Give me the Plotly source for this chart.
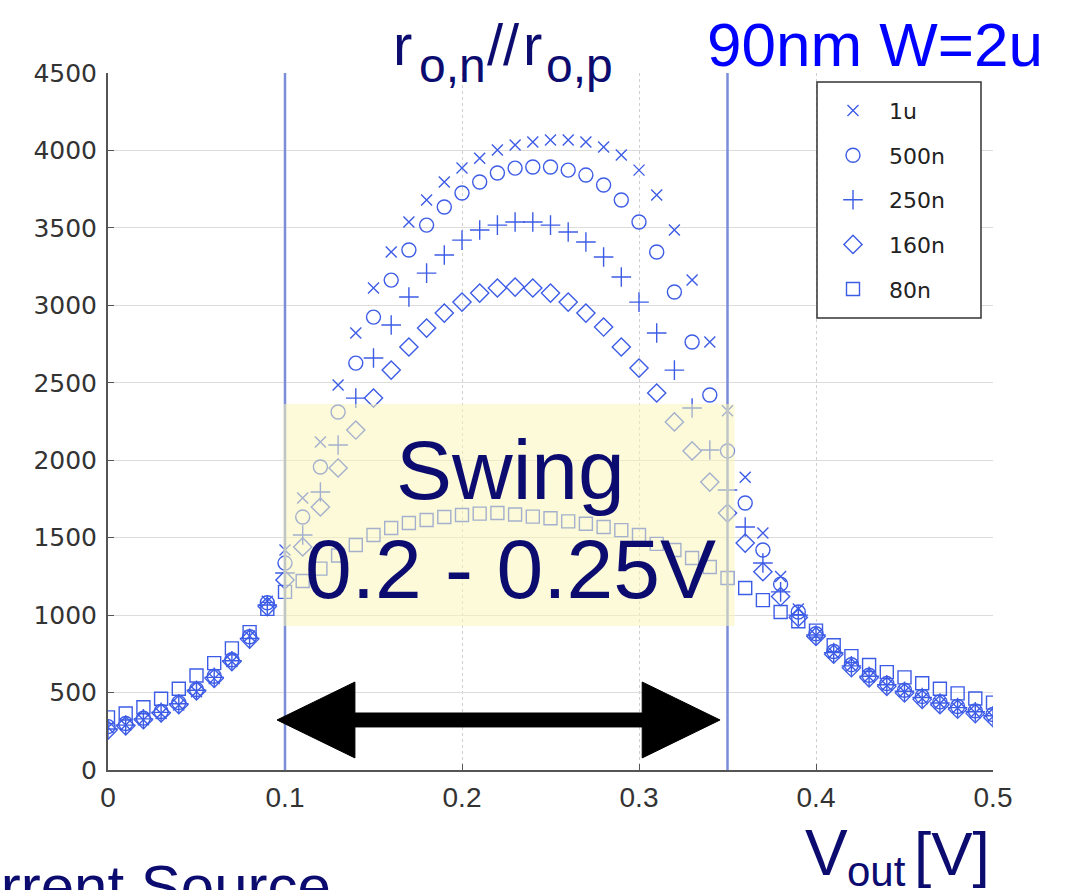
import plotly.graph_objects as go

# ---------------- data ----------------
vout = [round(i * 0.01, 2) for i in range(51)]
series_names = ["1u", "500n", "250n", "160n", "80n"]
r_1u = [275, 290, 325, 365, 420, 505, 590, 700, 865, 1090,
        1420, 1756, 2118, 2485, 2821, 3112, 3345, 3538, 3680, 3796,
        3886, 3950, 4003, 4035, 4054, 4067, 4067, 4054, 4022, 3970,
        3873, 3712, 3486, 3163, 2763, 2320, 1890, 1530, 1250, 1040,
        870, 755, 670, 600, 545, 505, 462, 430, 400, 370, 345]
r_500n = [280, 300, 335, 378, 435, 520, 605, 712, 860, 1080,
          1336, 1633, 1956, 2311, 2627, 2924, 3163, 3357, 3518, 3635,
          3725, 3796, 3854, 3886, 3893, 3893, 3873, 3841, 3777, 3680,
          3538, 3344, 3086, 2763, 2421, 2060, 1724, 1420, 1200, 1020,
          880, 765, 680, 612, 558, 515, 475, 440, 410, 382, 358]
r_250n = [265, 290, 330, 372, 428, 515, 598, 705, 850, 1065,
          1272, 1517, 1795, 2098, 2401, 2660, 2873, 3054, 3208, 3325,
          3421, 3486, 3518, 3538, 3538, 3518, 3473, 3409, 3312, 3183,
          3021, 2821, 2582, 2337, 2066, 1808, 1569, 1336, 1150, 1000,
          872, 758, 672, 605, 550, 508, 468, 433, 403, 376, 350]
r_160n = [258, 285, 325, 368, 422, 510, 592, 700, 845, 1055,
          1227, 1440, 1698, 1950, 2195, 2401, 2582, 2731, 2853, 2950,
          3021, 3079, 3112, 3118, 3112, 3079, 3021, 2950, 2860, 2731,
          2595, 2434, 2247, 2060, 1859, 1659, 1465, 1280, 1120, 985,
          862, 748, 660, 595, 540, 497, 456, 422, 392, 364, 338]
r_80n = [340, 365, 405, 460, 525, 610, 690, 785, 890, 1040,
         1150, 1220, 1300, 1385, 1453, 1517, 1562, 1595, 1614, 1633,
         1646, 1655, 1659, 1650, 1636, 1625, 1605, 1590, 1569, 1549,
         1517, 1460, 1420, 1369, 1311, 1240, 1175, 1097, 1020, 960,
         900, 805, 735, 678, 632, 598, 560, 525, 495, 462, 435]
series_values = [r_1u, r_500n, r_250n, r_160n, r_80n]

x_ticks = [0, 0.1, 0.2, 0.3, 0.4, 0.5]
x_tick_labels = ["0", "0.1", "0.2", "0.3", "0.4", "0.5"]
y_ticks = list(range(0, 4501, 500))
y_tick_labels = [str(v) for v in y_ticks]

swing_bounds = [0.1, 0.35]          # vertical marker lines
swing_box = dict(x0=0.099, x1=0.354, y0=930, y1=2363)
arrow = dict(xl=0.0955, xr=0.3458, yc=323, shaft=45, head=245, headlen=0.044)

# ---------------- styles ----------------
W, H = 1068, 890
L, R, T, B = 108, 993, 73, 770
symbols = ["x-thin-open", "circle-open", "cross-thin-open", "diamond-open", "square-open"]
sizes = [11, 14, 14, 14, 13]
mcolor = "#3d5ce6"
navy = "#0c0c70"
narrow = "Liberation Sans Narrow, Arial Narrow, Liberation Sans, Arial"
sans = "Liberation Sans, Arial"


def fx(px):
    return (px - L) / (R - L)


def fy(py):
    return (B - py) / (B - T)


fig = go.Figure()
for name, vals, sym, sz in zip(series_names, series_values, symbols, sizes):
    fig.add_trace(go.Scatter(
        x=vout, y=vals, mode="markers", name=name, legendgroup=name,
        marker=dict(symbol=sym, size=sz, color=mcolor,
                    line=dict(color=mcolor, width=1.4)),
    ))

shapes = []
for xv in swing_bounds:
    shapes.append(dict(type="line", xref="x", yref="paper", x0=xv, x1=xv, y0=0, y1=1,
                       line=dict(color="#7b8cd8", width=2.5), layer="above"))
shapes.append(dict(type="rect", xref="x", yref="y", **swing_box,
                   fillcolor="#f9f6b8", opacity=0.55, line=dict(width=0), layer="above"))
a = arrow
path = (f"M {a['xl']},{a['yc']} "
        f"L {a['xl']+a['headlen']},{a['yc']+a['head']} "
        f"L {a['xl']+a['headlen']},{a['yc']+a['shaft']} "
        f"L {a['xr']-a['headlen']},{a['yc']+a['shaft']} "
        f"L {a['xr']-a['headlen']},{a['yc']+a['head']} "
        f"L {a['xr']},{a['yc']} "
        f"L {a['xr']-a['headlen']},{a['yc']-a['head']} "
        f"L {a['xr']-a['headlen']},{a['yc']-a['shaft']} "
        f"L {a['xl']+a['headlen']},{a['yc']-a['shaft']} "
        f"L {a['xl']+a['headlen']},{a['yc']-a['head']} Z")
shapes.append(dict(type="path", xref="x", yref="y", path=path,
                   fillcolor="black", line=dict(color="black", width=1), layer="above"))
# legend frame (wider than plotly's auto-sized legend box)
shapes.append(dict(type="rect", xref="paper", yref="paper",
                   x0=fx(817), x1=fx(981), y0=fy(318), y1=fy(82),
                   fillcolor="white", line=dict(color="#333333", width=1.5), layer="above"))


def ann(text, px, py, size, color, family, xanchor="left"):
    return dict(text=text, xref="paper", yref="paper", x=fx(px), y=fy(py),
                xanchor=xanchor, yanchor="middle", showarrow=False,
                font=dict(size=size, color=color, family=family))


annotations = [
    ann("Swing", 510, 470, 84, navy, sans, "center"),
    ann("0.2 - 0.25V", 510, 569, 84, navy, sans, "center"),
    ann("90nm W=2u", 705, 44, 62, "#0000ff", sans),
    ann("r", 391, 45, 58, navy, narrow),
    ann("o,n", 417, 65, 48, navy, narrow),
    ann("//", 485, 45, 58, navy, narrow),
    ann("r", 521, 45, 58, navy, narrow),
    ann("o,p", 544, 65, 48, navy, narrow),
    ann("V", 803, 853, 64, navy, narrow),
    ann("out", 845, 872, 42, navy, narrow),
    ann("[V]", 912, 853, 62, navy, narrow),
    ann("Current Source", 333, 886, 60, navy, sans, "right"),
]

fig.update_layout(
    width=W, height=H,
    margin=dict(l=L, r=W - R, t=T, b=H - B, pad=0),
    paper_bgcolor="white", plot_bgcolor="white",
    shapes=shapes, annotations=annotations,
    showlegend=True,
    legend=dict(x=fx(817), y=fy(82), xanchor="left", yanchor="top",
                bgcolor="rgba(0,0,0,0)", borderwidth=0,
                font=dict(size=22, color="#222222", family="DejaVu Sans"),
                title=dict(text="&nbsp;", font=dict(size=6)),
                itemwidth=62, tracegroupgap=13),
)
fig.update_xaxes(range=[0, 0.5], tickvals=x_ticks, ticktext=x_tick_labels,
                 showline=True, linecolor="#555555", linewidth=2, mirror=False,
                 ticks="inside", ticklen=6, tickcolor="#555555",
                 showgrid=True, gridcolor="#cfcfcf", griddash="dot", gridwidth=1,
                 zeroline=False, ticklabelstandoff=1,
                 tickfont=dict(size=28, color="#333333", family=narrow))
fig.update_yaxes(range=[0, 4500], tickvals=y_ticks, ticktext=y_tick_labels,
                 showline=True, linecolor="#555555", linewidth=2, mirror=False,
                 ticks="inside", ticklen=6, tickcolor="#555555",
                 showgrid=True, gridcolor="#dcdcdc", gridwidth=1,
                 zeroline=False, ticklabelstandoff=4,
                 tickfont=dict(size=25, color="#333333", family="DejaVu Sans"))

fig.write_html("out.html")
